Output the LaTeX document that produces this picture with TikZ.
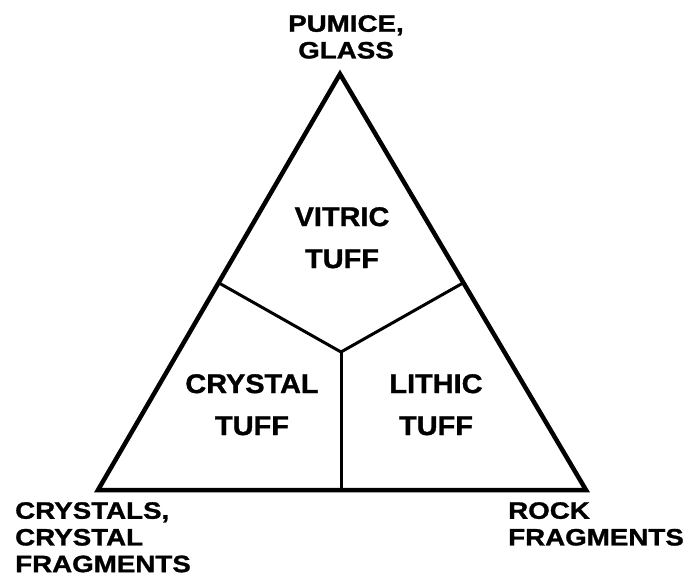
\documentclass[tikz,border=0pt]{standalone}
\usepackage{fontspec}
\newfontfamily\outerfont[FakeStretch=1.17,FakeBold=1.2]{Liberation Sans}
\newfontfamily\innerfont[FakeStretch=1.07,FakeBold=1.2]{Liberation Sans}
\begin{document}
\begin{tikzpicture}[x=1pt,y=-1pt,
  outerlbl/.style={inner sep=0pt,font=\outerfont\bfseries\fontsize{23.7}{26.7}\selectfont},
  innerlbl/.style={inner sep=0pt,align=center,font=\innerfont\bfseries\fontsize{27}{42}\selectfont},
  edge/.style={line width=4.5pt,line join=miter},
  divider/.style={line width=3pt}]
\useasboundingbox (0,0) rectangle (691,580);
\coordinate (top) at (340,74);
\coordinate (bl) at (98,490);
\coordinate (br) at (586,490);
\coordinate (c) at (341,352);
\coordinate (ml) at (219,283);
\coordinate (mr) at (463,283);
\coordinate (mb) at (341,490);
\draw[edge] (top) -- (br) -- (bl) -- cycle;
\draw[divider] (ml) -- (c) -- (mr);
\draw[divider] (c) -- (mb);
\node[outerlbl,align=center,anchor=north] (pumice) at (346,15) {PUMICE,\\GLASS};
\node[outerlbl,align=left,anchor=north west] (crystals) at (15,502) {CRYSTALS,\\CRYSTAL\\FRAGMENTS};
\node[outerlbl,align=left,anchor=north west] (rock) at (508,502) {ROCK\\FRAGMENTS};
\node[innerlbl,anchor=north] (vitric) at (342,207) {VITRIC\\TUFF};
\node[innerlbl,anchor=north] (crystal) at (252,374) {CRYSTAL\\TUFF};
\node[innerlbl,anchor=north] (lithic) at (436,374) {LITHIC\\TUFF};
\end{tikzpicture}
\end{document}
